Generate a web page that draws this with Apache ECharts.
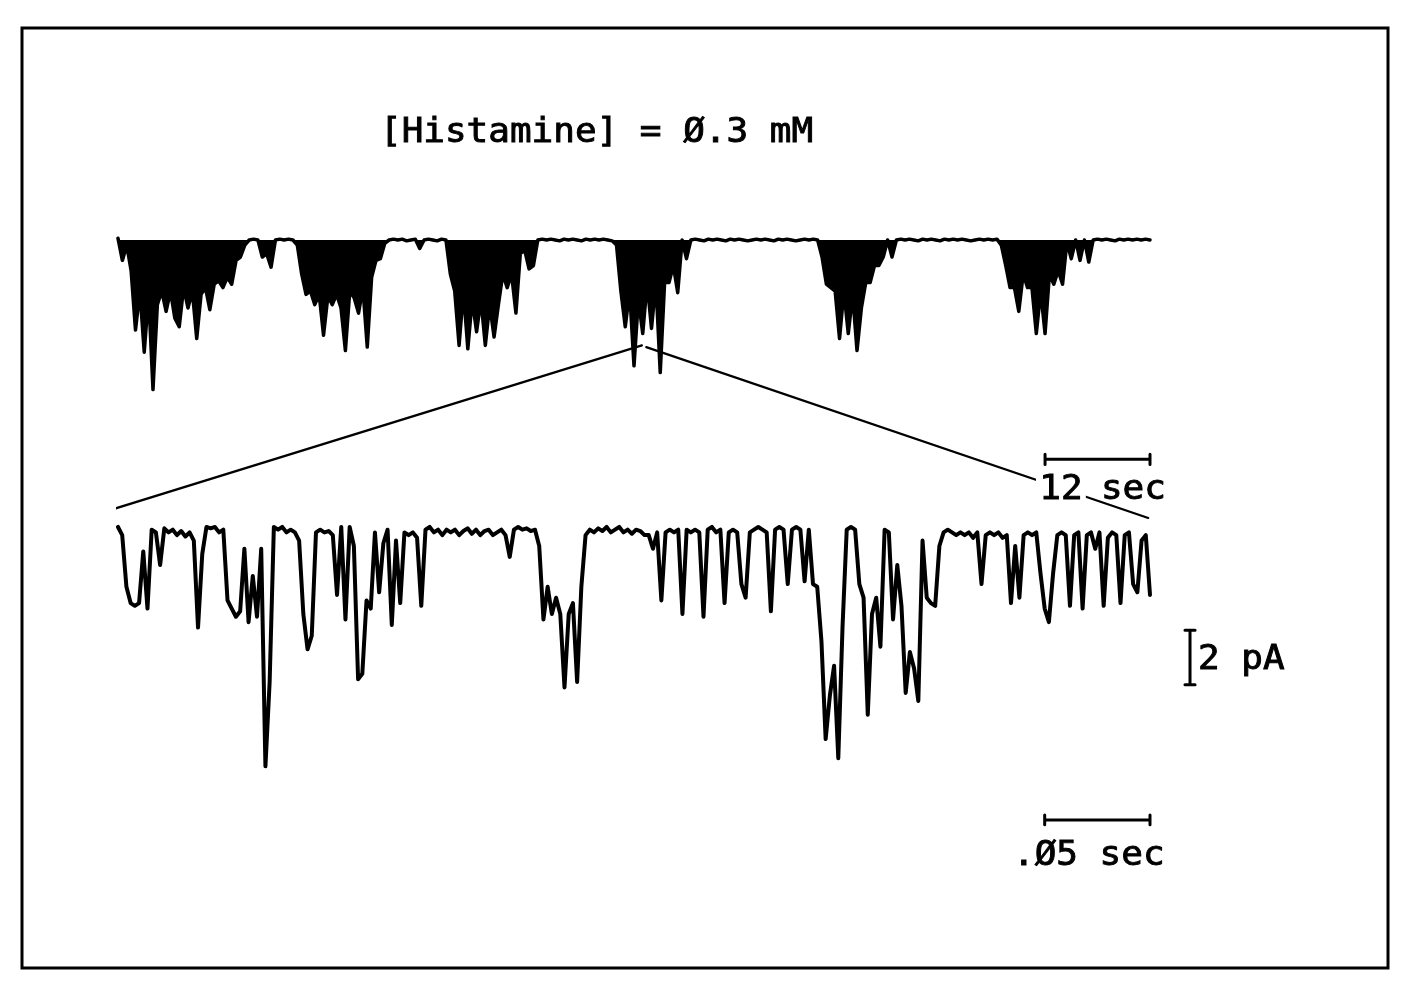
<!DOCTYPE html>
<html>
<head>
<meta charset="utf-8">
<script src="https://cdn.jsdelivr.net/npm/echarts@6/dist/echarts.min.js"></script>
<style>
html,body{margin:0;padding:0;background:#fff;}
#chart{width:1404px;height:988px;}
</style>
</head>
<body>
<div id="chart"></div>
<script>
// ---------- DATA ----------
// Long recording (top trace): current in pA, one sample every topSampleSec seconds
const topSampleSec = 0.5;
const topCurrent = [
  0.1, -1.2, -0.3, -1.8, -5.3, -3.0, -6.6, -3.2, -8.8, -3.8,
  -3.0, -4.2, -3.0, -4.6, -5.1, -2.8, -4.0, -3.0, -5.8, -3.2,
  -2.8, -4.1, -2.6, -2.4, -2.8, -2.2, -2.6, -1.2, -1.0, -0.3,
  0.0, 0.05, 0.0, -1.0, -0.8, -1.6, 0.0, 0.05, 0.0, 0.05,
  0.0, -0.3, -2.0, -3.2, -3.0, -3.8, -3.2, -5.6, -3.3, -3.8,
  -3.2, -4.0, -6.5, -3.0, -3.4, -4.3, -2.8, -6.3, -2.2, -1.2,
  -1.1, -0.2, 0.0, 0.05, 0.0, 0.05, -0.05, 0.0, 0.05, -0.5,
  0.0, 0.05, 0.0, -0.05, 0.05, 0.0, -2.0, -3.0, -6.2, -3.0,
  -6.4, -3.5, -5.4, -3.5, -6.2, -3.8, -5.7, -3.8, -2.0, -2.8,
  -2.0, -4.3, -0.8, -0.6, -1.7, -1.5, 0.0, 0.05, 0.0, 0.05,
  0.0, -0.05, 0.05, 0.0, 0.05, 0.0, -0.05, 0.05, 0.0, 0.05,
  0.0, 0.05, 0.0, -0.05, -0.3, -3.0, -5.1, -3.0, -7.4, -3.5,
  -5.5, -2.5, -5.2, -2.5, -7.8, -2.5, -2.5, -1.5, -3.1, 0.0,
  -1.1, 0.0, 0.05, 0.0, -0.05, 0.05, 0.0, 0.05, 0.0, -0.05,
  0.05, 0.0, 0.05, 0.0, -0.05, 0.0, 0.05, 0.0, 0.05, 0.0,
  -0.05, 0.05, 0.0, 0.05, 0.0, -0.05, 0.0, 0.05, 0.0, 0.05,
  0.0, -1.0, -2.6, -2.8, -3.0, -5.8, -3.0, -5.5, -3.2, -6.5,
  -4.0, -2.5, -2.5, -1.5, -1.5, -1.0, 0.0, -1.0, 0.0, 0.05,
  0.0, 0.05, 0.0, -0.05, 0.05, 0.0, 0.05, 0.0, -0.05, 0.05,
  0.0, 0.05, 0.0, 0.05, 0.0, -0.05, 0.0, 0.05, 0.0, 0.05,
  0.0, 0.05, -0.3, -1.5, -2.8, -2.8, -4.2, -2.0, -2.8, -2.8,
  -5.5, -3.0, -5.5, -2.0, -2.6, -1.8, -2.6, -0.1, -1.1, 0.0,
  -1.2, 0.0, -1.3, 0.0, 0.05, 0.0, 0.05, 0.0, -0.05, 0.05,
  0.0, 0.05, 0.0, 0.05, 0.0, 0.05, 0.0
];

// Expanded segment (bottom trace): current in pA, one sample every zoomSampleSec seconds
const zoomSampleSec = 0.002;
const zoomCurrent = [
  0.2, -0.1, -2.0, -2.6, -2.7, -2.6, -0.7, -2.8, 0.1, 0.0,
  -1.2, 0.15, 0.0, 0.1, -0.1, 0.05, -0.15, 0.0, -0.3, -3.5,
  -0.8, 0.2, 0.15, 0.2, 0.0, 0.1, -2.5, -2.8, -3.1, -2.9,
  -0.6, -3.3, -1.6, -3.1, -0.6, -8.6, -5.5, 0.2, 0.1, 0.2,
  0.0, 0.1, 0.0, -0.3, -3.0, -4.3, -3.8, 0.0, 0.1, 0.0,
  0.05, -0.1, -2.3, 0.2, -3.2, 0.2, -0.5, -5.4, -5.2, -2.5,
  -2.8, 0.0, -2.2, -0.4, 0.1, -3.4, -0.3, -2.6, 0.0, -0.1,
  0.0, -0.2, -2.7, 0.1, 0.2, 0.0, 0.1, -0.1, 0.1, 0.0,
  0.1, -0.1, 0.05, 0.15, -0.05, 0.1, -0.1, 0.05, 0.1, -0.1,
  0.0, 0.1, -0.1, -0.9, 0.1, 0.2, 0.1, 0.15, 0.05, 0.1,
  -0.5, -3.2, -2.0, -3.0, -2.4, -3.0, -5.7, -3.0, -2.6, -5.5,
  -2.0, -0.1, 0.1, 0.0, 0.15, 0.05, 0.2, 0.0, 0.1, 0.2,
  0.0, 0.1, -0.05, 0.1, 0.05, -0.1, -0.1, -0.6, 0.0, -2.5,
  0.0, 0.1, 0.0, 0.1, -3.0, 0.1, 0.0, 0.1, 0.0, -3.1,
  0.1, 0.2, 0.0, 0.1, -2.6, 0.0, 0.1, 0.0, -1.9, -2.4,
  0.0, 0.1, 0.2, 0.1, 0.0, -2.9, 0.1, 0.2, 0.1, -1.9,
  0.1, 0.2, 0.1, -1.8, 0.1, -1.9, -2.0, -4.0, -7.6, -6.0,
  -4.9, -8.3, -3.5, 0.1, 0.2, 0.1, -1.9, -2.4, -6.7, -3.0,
  -2.4, -4.2, 0.1, 0.0, -3.2, -1.2, -2.7, -5.9, -4.4, -5.0,
  -6.2, -0.3, -2.4, -2.6, -2.7, -0.5, 0.0, 0.1, 0.0, -0.1,
  0.0, -0.1, 0.0, -0.2, 0.0, -1.9, -0.1, 0.0, -0.1, 0.0,
  -0.2, -0.1, -2.6, -0.5, -2.4, -0.1, 0.0, -0.1, 0.0, -1.5,
  -2.8, -3.3, -1.5, -0.1, 0.0, -0.1, -2.7, -0.1, 0.0, -2.8,
  -0.1, 0.0, -0.6, 0.0, -2.7, -0.2, 0.0, -0.1, -2.6, -0.1,
  0.0, -1.9, -2.2, -0.3, -0.1, -2.3
];

// Where the expanded segment sits in the long recording (s) and where the guide lines end
const guideLeft  = [[59.9, -6.2], [-0.35, -15.8]];
const guideRight = [[60.4, -6.3], [117.8, -16.35]];

// Calibration bars
const timeBarTopSec = 12;      // "12 sec"
const timeBarZoomSec = 0.05;   // ".05 sec"
const currentBarPA = 2;        // "2 pA"

const titleText = '[Histamine] = Ø.3 mM';

// ---------- BUILD ----------
const topData = topCurrent.map((v, i) => [+(i * topSampleSec).toFixed(3), v]);
const zoomData = zoomCurrent.map((v, i) => [+(i * zoomSampleSec).toFixed(4), v]);
const topEnd = (topCurrent.length - 1) * topSampleSec;
const zoomEnd = (zoomCurrent.length - 1) * zoomSampleSec;

function hBar(x1, x2, y, tick) {
  return [[x1, y + tick], [x1, y - tick], [x1, y], [x2, y], [x2, y + tick], [x2, y - tick]];
}
function vBar(x, y1, y2, tick) {
  return [[x - tick, y1], [x + tick, y1], [x, y1], [x, y2], [x - tick, y2], [x + tick, y2]];
}
const barTop = hBar(topEnd - timeBarTopSec, topEnd, -12.9, 0.3);
const barZoomT = hBar(zoomEnd - timeBarZoomSec, zoomEnd, -10.57, 0.18);
const barZoomI = vBar(0.509, -3.6, -3.6 - currentBarPA, 0.0024);

const black = '#000';
function lineSeries(data, xi, yi, width, extra) {
  return Object.assign({
    type: 'line', xAxisIndex: xi, yAxisIndex: yi, data: data,
    symbol: 'none', showSymbol: false, clip: false, silent: true,
    lineStyle: { color: black, width: width, join: 'round', cap: 'round' },
    z: 3
  }, extra || {});
}

const FONT = '33px "DejaVu Sans Mono", "Liberation Mono", monospace';
function txt(text, x, y, extraStyle) {
  return {
    type: 'text', x: x, y: y, scaleX: 1.09, scaleY: 1, z: 100,
    style: Object.assign({
      text: text, font: FONT, fill: black, stroke: black, lineWidth: 0.9,
      textAlign: 'left', textVerticalAlign: 'middle'
    }, extraStyle || {})
  };
}

const chart = echarts.init(document.getElementById('chart'), null, { renderer: 'canvas' });
chart.setOption({
  animation: false,
  backgroundColor: '#fff',
  grid: [
    { left: 118, right: 254, top: 206, bottom: 102 },
    { left: 118, right: 190.82, top: 206, bottom: 102 }
  ],
  xAxis: [
    { type: 'value', gridIndex: 0, min: 0, max: 118, show: false },
    { type: 'value', gridIndex: 1, min: 0, max: 0.52, show: false }
  ],
  yAxis: [
    { type: 'value', gridIndex: 0, min: -38, max: 2, show: false },
    { type: 'value', gridIndex: 1, min: -13, max: 12, show: false }
  ],
  series: [
    lineSeries(topData, 0, 0, 3.5, { areaStyle: { color: black, opacity: 1 } }),
    lineSeries(zoomData, 1, 1, 4),
    lineSeries(guideLeft, 0, 0, 2.2),
    lineSeries(guideRight, 0, 0, 2.2),
    lineSeries(barTop, 0, 0, 3),
    lineSeries(barZoomT, 1, 1, 3),
    lineSeries(barZoomI, 1, 1, 3)
  ],
  graphic: [
    { type: 'rect', z: 100, shape: { x: 22, y: 28, width: 1366, height: 940 },
      style: { fill: 'none', stroke: black, lineWidth: 3 } },
    txt(titleText, 380, 133),
    txt('12', 1036, 490, { backgroundColor: '#fff', padding: [2, 3] }),
    txt('sec', 1036 + 3 * 21.65, 490),
    txt(currentBarPA + ' pA', 1198, 660),
    txt('.Ø5 sec', 1013, 856)
  ]
});
</script>
</body>
</html>
